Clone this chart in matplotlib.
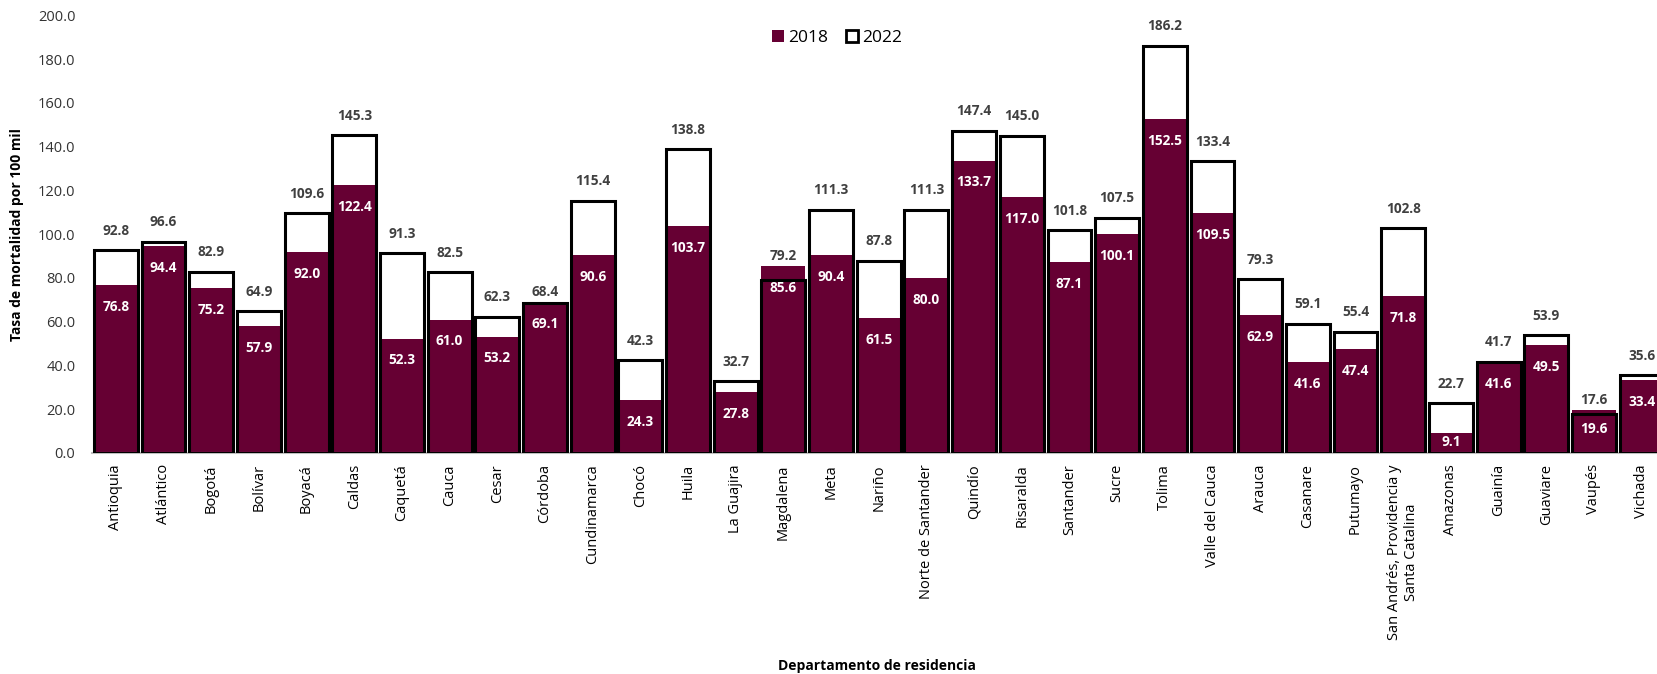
import matplotlib.pyplot as plt
from matplotlib.patches import Patch

plt.rcParams['font.family'] = ['Open Sans', 'DejaVu Sans']

departamentos = ['Antioquia', 'Atlántico', 'Bogotá', 'Bolívar', 'Boyacá', 'Caldas',
                 'Caquetá', 'Cauca', 'Cesar', 'Córdoba', 'Cundinamarca', 'Chocó',
                 'Huila', 'La Guajira', 'Magdalena', 'Meta', 'Nariño',
                 'Norte de Santander', 'Quindío', 'Risaralda', 'Santander', 'Sucre',
                 'Tolima', 'Valle del Cauca', 'Arauca', 'Casanare', 'Putumayo',
                 'San Andrés, Providencia y\nSanta Catalina', 'Amazonas', 'Guainía',
                 'Guaviare', 'Vaupés', 'Vichada']
tasa_2018 = [76.8, 94.4, 75.2, 57.9, 92.0, 122.4, 52.3, 61.0, 53.2, 69.1, 90.6, 24.3,
             103.7, 27.8, 85.6, 90.4, 61.5, 80.0, 133.7, 117.0, 87.1, 100.1, 152.5,
             109.5, 62.9, 41.6, 47.4, 71.8, 9.1, 41.6, 49.5, 19.6, 33.4]
tasa_2022 = [92.8, 96.6, 82.9, 64.9, 109.6, 145.3, 91.3, 82.5, 62.3, 68.4, 115.4, 42.3,
             138.8, 32.7, 79.2, 111.3, 87.8, 111.3, 147.4, 145.0, 101.8, 107.5, 186.2,
             133.4, 79.3, 59.1, 55.4, 102.8, 22.7, 41.7, 53.9, 17.6, 35.6]

maroon = '#660033'
x = list(range(len(departamentos)))
w = 0.92

fig = plt.figure(figsize=(16.58, 6.74), dpi=100)
ax = fig.add_axes([0.0555, 0.328, 0.949, 0.649])

# white 2022 bars behind, 2018 on top, 2022 outline on top of all
ax.bar(x, tasa_2022, width=w, color='white', edgecolor='none', zorder=1)
ax.bar(x, tasa_2018, width=w, color=maroon, edgecolor='none', zorder=2)
ax.bar(x, tasa_2022, width=w, fill=False, edgecolor='black', linewidth=2.2, zorder=3)

for i in x:
    v18, v22 = tasa_2018[i], tasa_2022[i]
    top = max(v18, v22)
    off = 14 if v22 >= v18 else 7
    ax.annotate(f'{v22:.1f}', xy=(i, top), xytext=(0, off), textcoords='offset points',
                ha='center', va='center', fontsize=9.8, fontweight='bold', color='#404040', zorder=5)
    y18 = max(v18 - 10, v18 * 0.55)
    ax.text(i, y18, f'{v18:.1f}', ha='center', va='center', fontsize=9.8,
            fontweight='bold', color='white', zorder=5)

ax.set_xlim(-0.5, len(departamentos) - 0.5)
ax.set_ylim(0, 200)
ax.set_yticks(range(0, 201, 20))
ax.set_yticklabels([f'{t:.1f}' for t in range(0, 201, 20)], fontsize=10.5, color='#333333')
ax.set_xticks(x)
ax.set_xticklabels(departamentos, rotation=90, fontsize=10.5, color='black',
                   ha='center', va='top', multialignment='center')
ax.tick_params(axis='both', length=0)
ax.tick_params(axis='y', pad=12)
ax.tick_params(axis='x', pad=8)

for s in ['top', 'right', 'left']:
    ax.spines[s].set_visible(False)
ax.spines['bottom'].set_color('#BFBFBF')
ax.spines['bottom'].set_linewidth(1.5)

ax.set_ylabel('Tasa de mortalidad por 100 mil', fontsize=10, fontweight='bold', labelpad=10)
fig.text(0.529, 0.012, 'Departamento de residencia', ha='center', va='center',
         fontsize=10, fontweight='bold')

handles = [Patch(facecolor=maroon, edgecolor='none', label='2018'),
           Patch(facecolor='white', edgecolor='black', linewidth=2, label='2022')]
fig.legend(handles=handles, loc='center', bbox_to_anchor=(0.505, 0.943), ncol=2,
           frameon=False, fontsize=12.5, handlelength=0.7, handleheight=0.7,
           handletextpad=0.25, columnspacing=1.0)

fig.savefig('out.png', dpi=100)
